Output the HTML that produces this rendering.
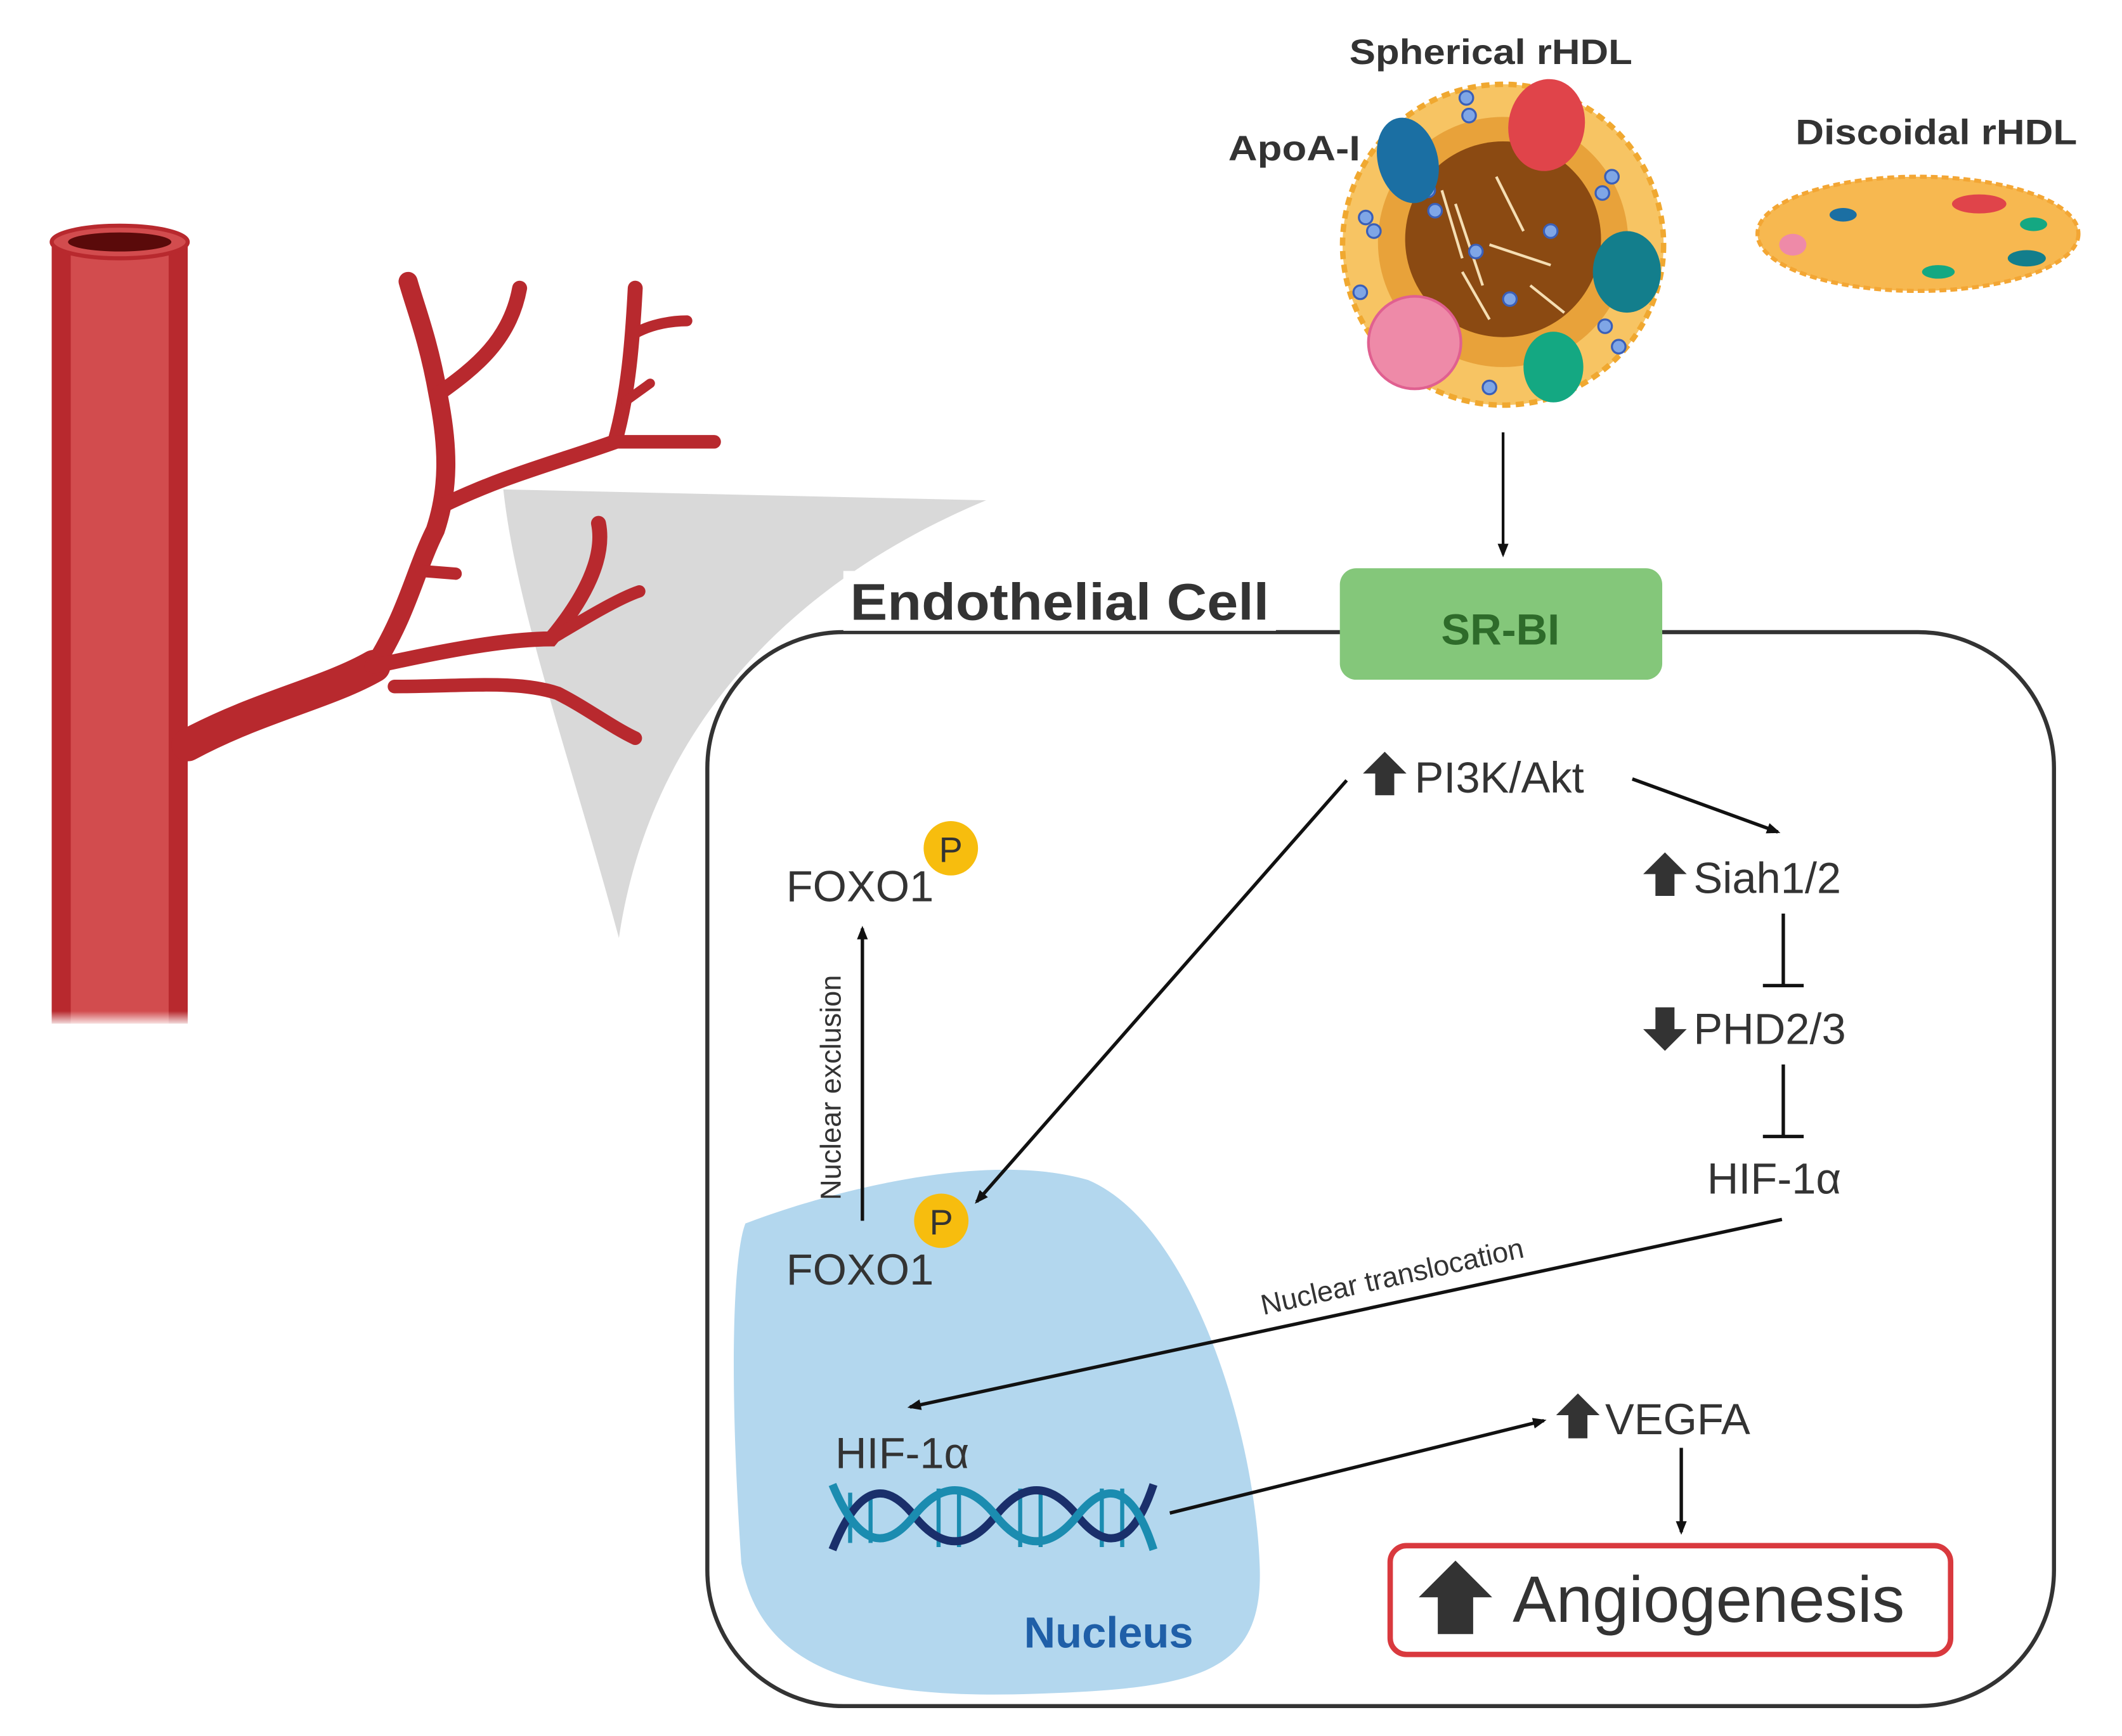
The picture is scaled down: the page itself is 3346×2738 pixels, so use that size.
<!DOCTYPE html>
<html><head><meta charset="utf-8"><style>
html,body{margin:0;padding:0;background:#fff;}
svg{display:block;}
text{font-family:"Liberation Sans",sans-serif;}
</style></head><body>
<svg width="3346" height="2738" viewBox="0 0 1560 1277" preserveAspectRatio="none" xmlns="http://www.w3.org/2000/svg">
<defs>
<linearGradient id="fade" x1="0" y1="0" x2="0" y2="1">
<stop offset="0.85" stop-color="#fff" stop-opacity="0"/><stop offset="1" stop-color="#fff" stop-opacity="1"/>
</linearGradient>
<marker id="ah" markerWidth="10" markerHeight="10" refX="8" refY="5" orient="auto" markerUnits="userSpaceOnUse">
<path d="M0,1 L10,5 L0,9 Z" fill="#111"/></marker>
</defs>
<!-- gray wedge -->
<path d="M370,360 L725,368 C600,420 480,520 455,690 C420,560 380,450 370,360 Z" fill="#d9d9d9"/>
<!-- vessel trunk -->
<rect x="38" y="178" width="100" height="575" fill="#b8292e"/>
<rect x="52" y="178" width="72" height="575" fill="#d24c4e"/>
<rect x="38" y="680" width="100" height="75" fill="url(#fade)"/>
<ellipse cx="88" cy="178" rx="50" ry="12" fill="#d24c4e" stroke="#b8292e" stroke-width="3"/>
<ellipse cx="88" cy="178" rx="38" ry="7" fill="#5a0a0a"/>
<!-- branches -->
<g fill="none" stroke="#b8292e" stroke-linecap="round">
<path d="M138,548 C190,520 240,510 275,490" stroke-width="24"/>
<path d="M275,490 C300,450 305,420 320,390 C330,360 330,330 322,290 C315,250 305,225 300,207" stroke-width="14"/>
<path d="M322,290 C350,270 375,250 382,212" stroke-width="11"/>
<path d="M325,372 C370,350 410,340 452,325 C462,290 465,250 467,212" stroke-width="11"/>
<path d="M452,325 C480,325 505,325 525,325" stroke-width="10"/>
<path d="M467,245 C480,238 495,236 505,236" stroke-width="8"/>
<path d="M460,295 L478,282" stroke-width="7"/>
<path d="M310,420 L335,422" stroke-width="9"/>
<path d="M275,490 C320,480 370,470 405,470 C430,440 445,410 440,385" stroke-width="11"/>
<path d="M405,470 C430,455 455,440 470,435" stroke-width="9"/>
<path d="M290,505 C340,505 380,500 410,510 C430,520 450,535 467,543" stroke-width="10"/>
</g>
<!-- spherical rHDL -->
<circle cx="1105" cy="180" r="118" fill="#f7c463" stroke="#f0a830" stroke-width="4" stroke-dasharray="6 4"/>
<circle cx="1105" cy="178" r="92" fill="#e8a23a"/>
<circle cx="1105" cy="176" r="72" fill="#8b4a12"/>
<g stroke="#f5deb3" stroke-width="2">
<path d="M1070,150 L1090,210 M1100,130 L1120,170 M1095,180 L1140,195 M1075,200 L1095,235 M1125,210 L1150,230 M1060,140 L1075,190"/></g>
<g fill="#7fa6e6" stroke="#3a5fb8" stroke-width="1.5">
<circle cx="1078" cy="72" r="5"/><circle cx="1080" cy="85" r="5"/><circle cx="1004" cy="160" r="5"/><circle cx="1010" cy="170" r="5"/>
<circle cx="1050" cy="140" r="5"/><circle cx="1055" cy="155" r="5"/><circle cx="1085" cy="185" r="5"/><circle cx="1110" cy="220" r="5"/>
<circle cx="1185" cy="130" r="5"/><circle cx="1178" cy="142" r="5"/><circle cx="1000" cy="215" r="5"/><circle cx="1095" cy="285" r="5"/>
<circle cx="1180" cy="240" r="5"/><circle cx="1190" cy="255" r="5"/><circle cx="1140" cy="170" r="5"/></g>
<ellipse cx="1035" cy="118" rx="22" ry="32" fill="#1b6fa3" transform="rotate(-15 1035 118)"/>
<ellipse cx="1137" cy="92" rx="28" ry="34" fill="#e0444a" transform="rotate(10 1137 92)"/>
<ellipse cx="1196" cy="200" rx="25" ry="30" fill="#137e8c"/>
<ellipse cx="1040" cy="252" rx="34" ry="34" fill="#ee8aa8" stroke="#e06090" stroke-width="2"/>
<ellipse cx="1142" cy="270" rx="22" ry="26" fill="#14a882"/>
<text x="992" y="47" font-size="26" font-weight="bold" fill="#333" textLength="208" lengthAdjust="spacingAndGlyphs">Spherical rHDL</text>
<text x="903" y="118" font-size="26" font-weight="bold" fill="#333" textLength="97" lengthAdjust="spacingAndGlyphs">ApoA-I</text>
<!-- discoidal -->
<ellipse cx="1410" cy="172" rx="118" ry="42" fill="#f7b850" stroke="#f3a634" stroke-width="3" stroke-dasharray="5 3"/>
<ellipse cx="1455" cy="150" rx="20" ry="7" fill="#e0444a"/>
<ellipse cx="1355" cy="158" rx="10" ry="5" fill="#1b6fa3"/>
<ellipse cx="1495" cy="165" rx="10" ry="5" fill="#14a882"/>
<ellipse cx="1490" cy="190" rx="14" ry="6" fill="#137e8c"/>
<ellipse cx="1425" cy="200" rx="12" ry="5" fill="#14a882"/>
<ellipse cx="1318" cy="180" rx="10" ry="8" fill="#ee8aa8"/>
<text x="1320" y="106" font-size="26" font-weight="bold" fill="#333" textLength="207" lengthAdjust="spacingAndGlyphs">Discoidal rHDL</text>
<!-- arrow down -->
<line x1="1105" y1="318" x2="1105" y2="408" stroke="#111" stroke-width="2" marker-end="url(#ah)"/>
<!-- cell -->
<rect x="520" y="465" width="990" height="790" rx="100" fill="none" stroke="#333" stroke-width="3"/>
<rect x="985" y="418" width="237" height="82" rx="12" fill="#84c77a"/>
<text x="1103" y="474" font-size="32" font-weight="bold" fill="#2e6b2a" text-anchor="middle">SR-BI</text>
<rect x="620" y="420" width="318" height="44" fill="#fff"/>
<text x="625" y="456" font-size="38" font-weight="bold" fill="#333" textLength="308" lengthAdjust="spacingAndGlyphs">Endothelial Cell</text>
<!-- nucleus -->
<path d="M548,900 C600,880 720,845 800,868 C875,900 922,1050 926,1150 C930,1232 880,1242 760,1246 C640,1250 560,1232 545,1150 C535,1000 540,920 548,900 Z" fill="#b3d7ee"/>
<!-- texts -->
<g font-size="32" fill="#333">
<text x="1040" y="583">PI3K/Akt</text>
<text x="1245" y="657">Siah1/2</text>
<text x="1245" y="768">PHD2/3</text>
<text x="1255" y="878">HIF-1α</text>
<text x="578" y="663">FOXO1</text>
<text x="578" y="945">FOXO1</text>
<text x="614" y="1080">HIF-1α</text>
<text x="1180" y="1055">VEGFA</text>
</g>
<rect x="1022" y="1137" width="412" height="80" rx="12" fill="#fff" stroke="#d9393e" stroke-width="4"/>
<text x="1112" y="1193" font-size="48" fill="#333">Angiogenesis</text>
<g fill="#333">
<path d="M1018,553 L1034,569 L1025,569 L1025,585 L1011,585 L1011,569 L1002,569 Z"/>
<path d="M1224,627 L1240,643 L1231,643 L1231,659 L1217,659 L1217,643 L1208,643 Z"/>
<path d="M1224,773 L1240,757 L1231,757 L1231,741 L1217,741 L1217,757 L1208,757 Z"/>
<path d="M1160,1025 L1176,1041 L1167,1041 L1167,1058 L1153,1058 L1153,1041 L1144,1041 Z"/>
<path d="M1070,1148 L1097,1175 L1083,1175 L1083,1202 L1057,1202 L1057,1175 L1043,1175 Z"/>
</g>
<circle cx="699" cy="624" r="20" fill="#f7bd0e"/><text x="699" y="634" font-size="26" fill="#333" text-anchor="middle">P</text>
<circle cx="692" cy="898" r="20" fill="#f7bd0e"/><text x="692" y="908" font-size="26" fill="#333" text-anchor="middle">P</text>
<text x="815" y="1212" font-size="32" font-weight="bold" fill="#1f5fa8" text-anchor="middle">Nucleus</text>
<!-- arrows -->
<g stroke="#111" stroke-width="2.5" fill="none">
<line x1="1200" y1="573" x2="1307" y2="612" marker-end="url(#ah)"/>
<line x1="990" y1="574" x2="718" y2="884" marker-end="url(#ah)"/>
<line x1="1311" y1="672" x2="1311" y2="725"/><line x1="1296" y1="725" x2="1326" y2="725"/>
<line x1="1311" y1="783" x2="1311" y2="836"/><line x1="1296" y1="836" x2="1326" y2="836"/>
<line x1="1310" y1="897" x2="669" y2="1035" marker-end="url(#ah)"/>
<line x1="634" y1="898" x2="634" y2="683" marker-end="url(#ah)"/>
<line x1="860" y1="1113" x2="1135" y2="1045" marker-end="url(#ah)"/>
<line x1="1236" y1="1065" x2="1236" y2="1127" marker-end="url(#ah)"/>
</g>
<text x="1025" y="946" font-size="21" fill="#333" text-anchor="middle" transform="rotate(-12.5 1025 946)">Nuclear translocation</text>
<text x="618" y="800" font-size="21" fill="#333" text-anchor="middle" transform="rotate(-90 618 800)">Nuclear exclusion</text>
<!-- DNA -->
<g fill="none" stroke-width="6">
<g stroke="#1b8cb0" stroke-width="3">
<line x1="625" y1="1098" x2="625" y2="1135"/><line x1="640" y1="1098" x2="640" y2="1135"/><line x1="690" y1="1095" x2="690" y2="1138"/>
<line x1="705" y1="1095" x2="705" y2="1138"/><line x1="750" y1="1095" x2="750" y2="1138"/><line x1="765" y1="1095" x2="765" y2="1138"/>
<line x1="810" y1="1095" x2="810" y2="1138"/><line x1="825" y1="1095" x2="825" y2="1138"/></g>
<path d="M612,1140 C632,1090 652,1090 672,1115 C692,1140 712,1140 732,1115 C752,1090 772,1090 792,1115 C812,1140 832,1140 848,1092" stroke="#1a2f6b"/>
<path d="M612,1092 C632,1140 652,1140 672,1115 C692,1090 712,1090 732,1115 C752,1140 772,1140 792,1115 C812,1090 832,1090 848,1140" stroke="#1b8cb0"/>
</g>
</svg>
</body></html>
